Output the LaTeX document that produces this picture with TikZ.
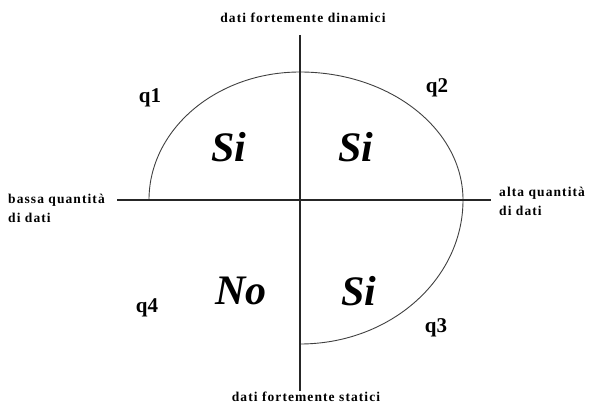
\documentclass[tikz,border=0pt]{standalone}
\usepackage{fontspec}
\setmainfont{Liberation Serif}
\begin{document}
\begin{tikzpicture}[x=1pt,y=-1pt,
  axis/.style={line width=2pt,black!85},
  arcline/.style={line width=0.9pt,black!75},
  axlabel/.style={font=\fontsize{13.5}{15}\selectfont\bfseries\addfontfeature{LetterSpace=8},inner sep=0pt},
  qlabel/.style={font=\fontsize{21}{23}\selectfont\bfseries,inner sep=0pt},
  ans/.style={font=\fontsize{42}{44}\selectfont\bfseries\itshape,inner sep=0pt}]
\useasboundingbox (0,0) rectangle (590,406);
\coordinate (O) at (300,200);
\coordinate (T) at (300,35);
\coordinate (B) at (300,391);
\coordinate (L) at (117,200);
\coordinate (R) at (491,200);
\coordinate (eL) at (149,200);
\coordinate (eT) at (300,72);
\coordinate (eR) at (463,200);
\coordinate (eB) at (300,344);
% arcs (quarter ellipses)
\draw[arcline] (eL) arc[start angle=180,end angle=90,x radius=151,y radius=-128]
  arc[start angle=90,end angle=0,x radius=163,y radius=-128]
  arc[start angle=0,end angle=-90,x radius=163,y radius=-144];
% axes
\draw[axis] (L) -- (R);
\draw[axis] (T) -- (B);
% labels
\node[axlabel,anchor=base] (top) at (303,23) {dati fortemente dinamici};
\node[axlabel,anchor=base] (bot) at (306,402) {dati fortemente statici};
\node[axlabel,anchor=base west] (left1) at (8,204) {bassa quantità};
\node[axlabel,anchor=base west] (left2) at (8,223) {di dati};
\node[axlabel,anchor=base west] (right1) at (499,197) {alta quantità};
\node[axlabel,anchor=base west] (right2) at (499,216) {di dati};
\node[qlabel] (q1) at (150,98) {q1};
\node[qlabel] (q2) at (437,88) {q2};
\node[qlabel] (q3) at (436,328) {q3};
\node[qlabel] (q4) at (147,308) {q4};
\node[ans] (a1) at (229,147) {Si};
\node[ans] (a2) at (356,147) {Si};
\node[ans] (a3) at (241,291) {No};
\node[ans] (a4) at (359,291) {Si};
\end{tikzpicture}
\end{document}
